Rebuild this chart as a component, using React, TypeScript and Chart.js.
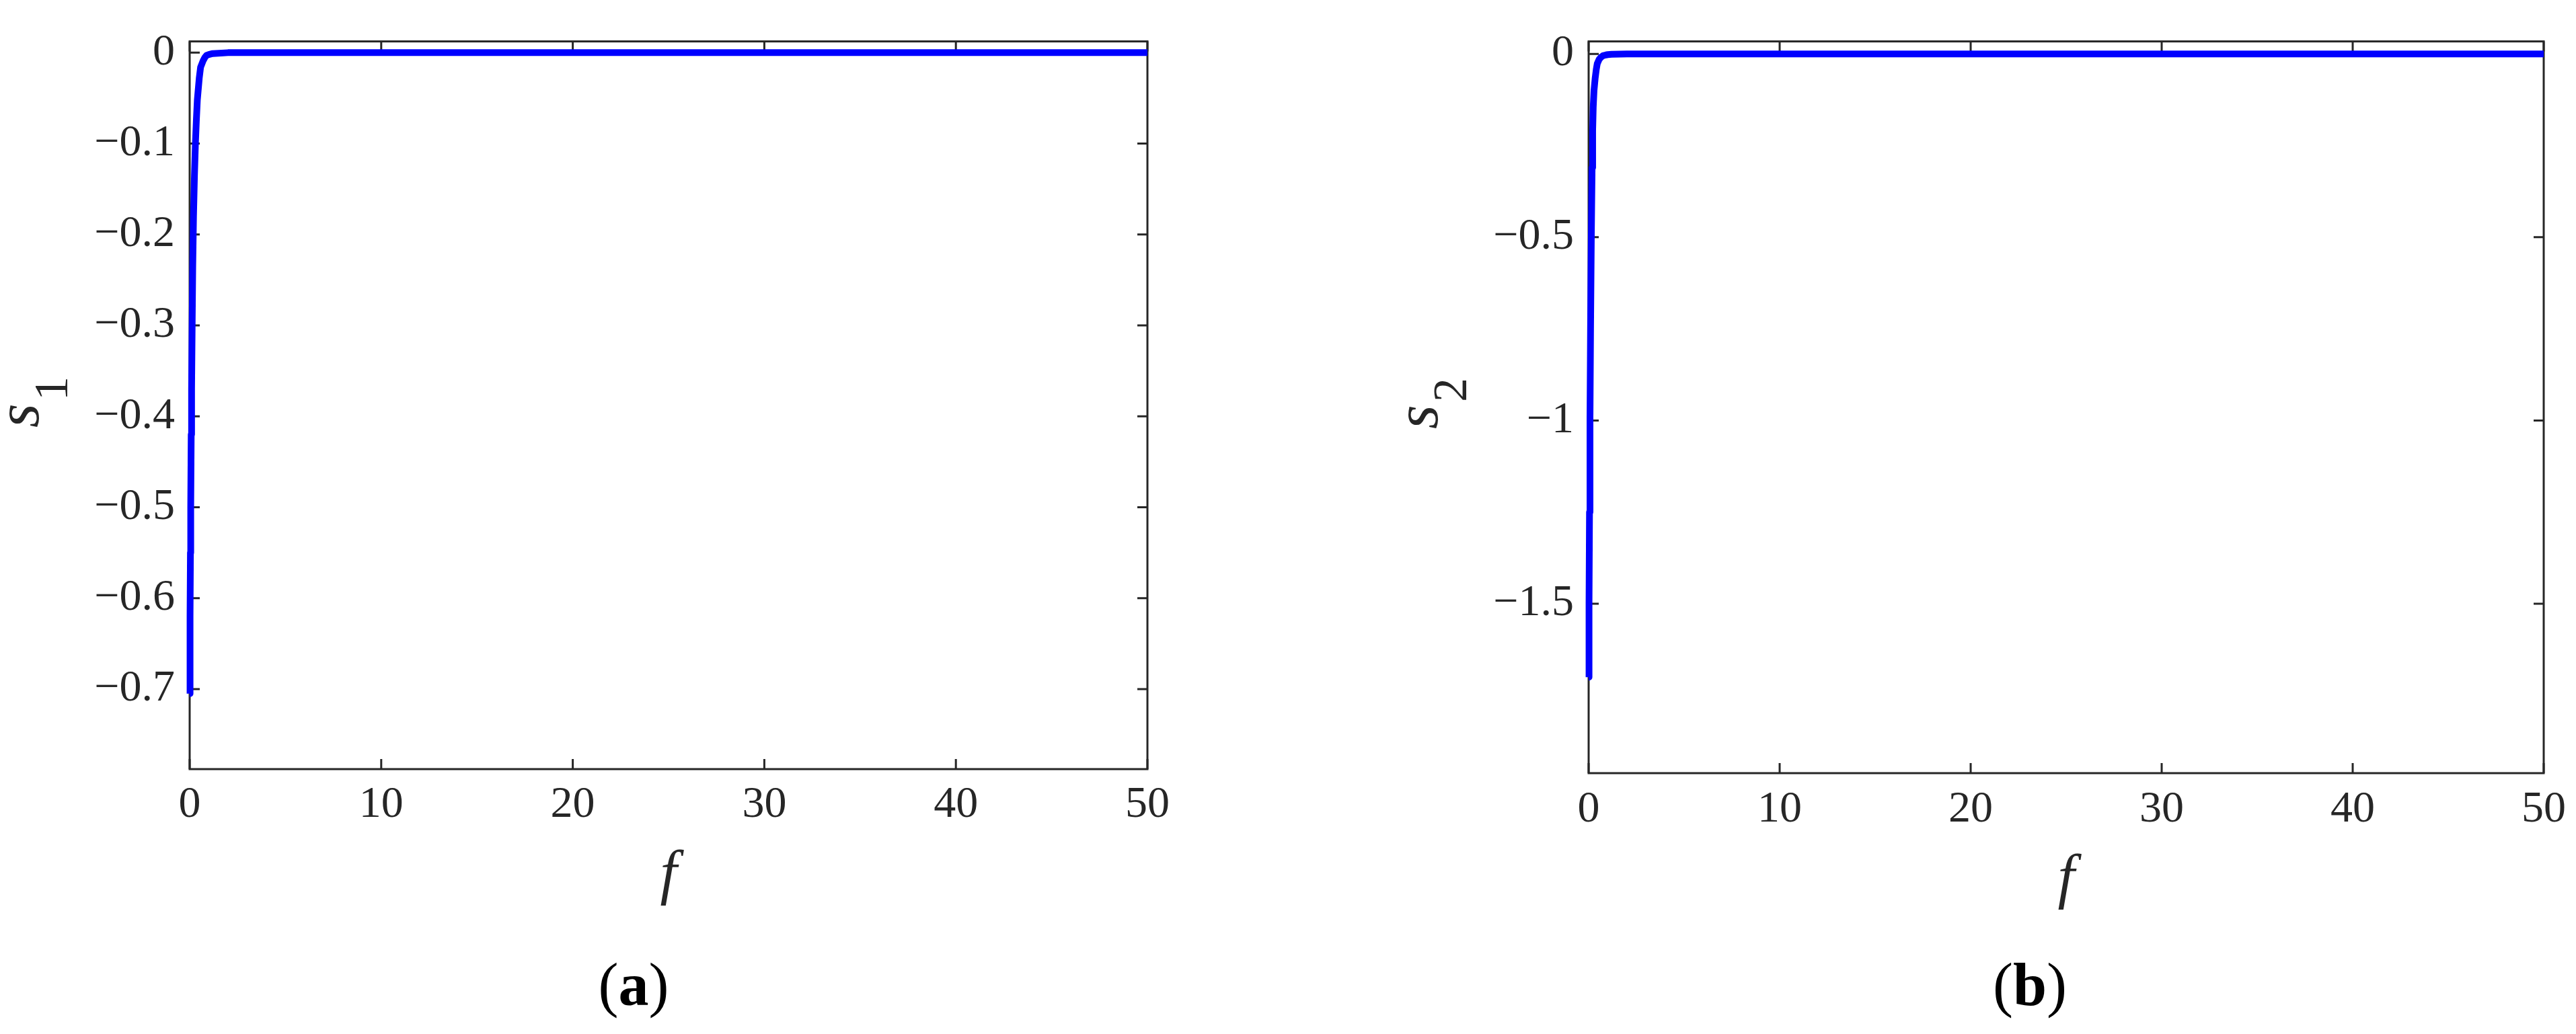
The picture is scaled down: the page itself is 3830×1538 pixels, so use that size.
import React, { useEffect, useRef } from 'react';
import { Chart, registerables } from 'chart.js';

Chart.register(...registerables);

// ---------- data ----------
const F1 = [0, 0.02, 0.04, 0.055, 0.08, 0.1, 0.13, 0.16, 0.2, 0.25, 0.3, 0.35, 0.4, 0.5, 0.57, 0.7, 0.8, 0.88, 1.0, 1.2, 2, 5, 10, 20, 30, 40, 50];
const S1 = [-0.705, -0.62, -0.55, -0.5, -0.42, -0.37, -0.3, -0.235, -0.18, -0.135, -0.1, -0.074, -0.052, -0.028, -0.016, -0.009, -0.005, -0.003, -0.002, -0.001, 0, 0, 0, 0, 0, 0, 0];

const F2 = [0, 0.02, 0.045, 0.07, 0.1, 0.14, 0.18, 0.21, 0.24, 0.28, 0.34, 0.4, 0.45, 0.55, 0.65, 0.75, 0.9, 1.0, 1.2, 2, 5, 10, 20, 30, 40, 50];
const S2 = [-1.7, -1.5, -1.25, -1.0, -0.75, -0.5, -0.31, -0.21, -0.145, -0.1, -0.067, -0.042, -0.027, -0.015, -0.009, -0.005, -0.003, -0.002, -0.001, 0, 0, 0, 0, 0, 0, 0];

const X_TICKS = [0, 10, 20, 30, 40, 50];
const X_TICK_LABELS = ['0', '10', '20', '30', '40', '50'];

const Y1_TICKS = [0, -0.1, -0.2, -0.3, -0.4, -0.5, -0.6, -0.7];
const Y1_TICK_LABELS = ['0', '\u22120.1', '\u22120.2', '\u22120.3', '\u22120.4', '\u22120.5', '\u22120.6', '\u22120.7'];
const Y1_LIMITS = [-0.788, 0.0124];

const Y2_TICKS = [0, -0.5, -1, -1.5];
const Y2_TICK_LABELS = ['0', '\u22120.5', '\u22121', '\u22121.5'];
const Y2_LIMITS = [-1.962, 0.034];

const X_LIMITS = [0, 50];

// ---------- style ----------
const FONT = "'Liberation Serif', 'Times New Roman', serif";
const INK = '#262626';
const CANVAS_H = 1538;
const PANEL_W = 1915;
const X_AXIS_H = 100;
const TICK_LEN = 15;

type Panel = {
  key: string;
  canvasLeft: number;
  area: { left: number; top: number; right: number; bottom: number };
  fs: number[];
  vs: number[];
  yTicks: number[];
  yTickLabels: string[];
  yLimits: number[];
  yMain: string;
  ySub: string;
  yLabelX: number;
  yLabelY: number;
  xTitleX: number;
  xTitleY: number;
  caption: string;
  captionX: number;
  captionY: number;
  xTickPad: number;
};

const PANELS: Panel[] = [
  {
    key: 'a',
    canvasLeft: 0,
    area: { left: 282, top: 44, right: 1706, bottom: 1144 },
    fs: F1,
    vs: S1,
    yTicks: Y1_TICKS,
    yTickLabels: Y1_TICK_LABELS,
    yLimits: Y1_LIMITS,
    yMain: 's',
    ySub: '1',
    yLabelX: 57,
    yLabelY: 636,
    xTitleX: 994,
    xTitleY: 1328,
    caption: 'a',
    captionX: 942,
    captionY: 1495,
    xTickPad: 14,
  },
  {
    key: 'b',
    canvasLeft: PANEL_W,
    area: { left: 447, top: 44, right: 1868, bottom: 1150 },
    fs: F2,
    vs: S2,
    yTicks: Y2_TICKS,
    yTickLabels: Y2_TICK_LABELS,
    yLimits: Y2_LIMITS,
    yMain: 's',
    ySub: '2',
    yLabelX: 222,
    yLabelY: 638,
    xTitleX: 1157,
    xTitleY: 1334,
    caption: 'b',
    captionX: 1103,
    captionY: 1495,
    xTickPad: 15,
  },
];

function labelFor(ticks: number[], labels: string[], v: number): string {
  const i = ticks.findIndex((t) => Math.abs(t - v) < 1e-9);
  return i >= 0 ? labels[i] : '';
}

function framePlugin(p: Panel) {
  return {
    id: 'frame-' + p.key,
    beforeDatasetsDraw(chart: any) {
      const { ctx, chartArea: a, scales } = chart;
      ctx.save();
      ctx.strokeStyle = INK;
      ctx.lineWidth = 3;
      ctx.lineCap = 'square';
      ctx.strokeRect(a.left, a.top, a.right - a.left, a.bottom - a.top);
      ctx.beginPath();
      ctx.lineCap = 'butt';
      for (const v of X_TICKS) {
        const px = scales.x.getPixelForValue(v);
        ctx.moveTo(px, a.bottom);
        ctx.lineTo(px, a.bottom - TICK_LEN);
        ctx.moveTo(px, a.top);
        ctx.lineTo(px, a.top + TICK_LEN);
      }
      for (const v of p.yTicks) {
        const py = scales.y.getPixelForValue(v);
        ctx.moveTo(a.left, py);
        ctx.lineTo(a.left + TICK_LEN, py);
        ctx.moveTo(a.right, py);
        ctx.lineTo(a.right - TICK_LEN, py);
      }
      ctx.stroke();
      ctx.restore();
    },
    afterDraw(chart: any) {
      const { ctx } = chart;
      ctx.save();
      ctx.fillStyle = INK;
      // y-axis title: italic s with subscript
      ctx.translate(p.yLabelX, p.yLabelY);
      ctx.rotate(-Math.PI / 2);
      ctx.textAlign = 'left';
      ctx.textBaseline = 'alphabetic';
      ctx.font = `italic 92px ${FONT}`;
      ctx.fillText(p.yMain, 0, 0);
      ctx.font = `72px ${FONT}`;
      ctx.fillText(p.ySub, 40, 43);
      ctx.restore();

      // x-axis title
      ctx.save();
      ctx.fillStyle = INK;
      ctx.font = `italic 90px ${FONT}`;
      ctx.textAlign = 'center';
      ctx.textBaseline = 'alphabetic';
      ctx.fillText('f', p.xTitleX, p.xTitleY);
      ctx.restore();

      // caption "(a)" with bold letter
      ctx.save();
      ctx.fillStyle = '#000000';
      ctx.textAlign = 'left';
      ctx.textBaseline = 'alphabetic';
      const reg = `90px ${FONT}`;
      const bold = `bold 90px ${FONT}`;
      ctx.font = reg;
      const wl = ctx.measureText('(').width;
      const wr = ctx.measureText(')').width;
      ctx.font = bold;
      const wm = ctx.measureText(p.caption).width;
      let x = p.captionX - (wl + wm + wr) / 2;
      ctx.font = reg;
      ctx.fillText('(', x, p.captionY);
      x += wl;
      ctx.font = bold;
      ctx.fillText(p.caption, x, p.captionY);
      x += wm;
      ctx.font = reg;
      ctx.fillText(')', x, p.captionY);
      ctx.restore();
    },
  };
}

function PanelChart({ p }: { p: Panel }) {
  const ref = useRef<HTMLCanvasElement | null>(null);
  useEffect(() => {
    if (!ref.current) return;
    const a = p.area;
    const chart = new Chart(ref.current, {
      type: 'line',
      data: {
        datasets: [
          {
            data: p.fs.map((f, i) => ({ x: f, y: p.vs[i] })),
            borderColor: '#0000ff',
            backgroundColor: '#0000ff',
            borderWidth: 10,
            pointRadius: 0,
            fill: false,
            tension: 0,
            borderJoinStyle: 'round',
            clip: 12,
          } as any,
        ],
      },
      options: {
        responsive: false,
        animation: false,
        events: [],
        layout: {
          padding: {
            left: 0,
            top: a.top,
            right: PANEL_W - a.right,
            bottom: CANVAS_H - a.bottom - X_AXIS_H,
          },
        },
        plugins: {
          legend: { display: false },
          tooltip: { enabled: false },
        },
        scales: {
          x: {
            type: 'linear',
            min: X_LIMITS[0],
            max: X_LIMITS[1],
            afterBuildTicks: (s: any) => {
              s.ticks = X_TICKS.map((v) => ({ value: v }));
            },
            afterFit: (s: any) => {
              s.height = X_AXIS_H;
            },
            ticks: {
              autoSkip: false,
              maxRotation: 0,
              padding: p.xTickPad,
              color: INK,
              font: { family: FONT, size: 66 },
              callback: (v: any) => labelFor(X_TICKS, X_TICK_LABELS, Number(v)),
            },
            grid: { display: false, drawTicks: false },
            border: { display: false },
          },
          y: {
            type: 'linear',
            min: p.yLimits[0],
            max: p.yLimits[1],
            afterBuildTicks: (s: any) => {
              s.ticks = p.yTicks.map((v) => ({ value: v }));
            },
            afterFit: (s: any) => {
              s.width = a.left;
            },
            ticks: {
              autoSkip: false,
              padding: 22,
              color: INK,
              font: { family: FONT, size: 66 },
              callback: (v: any) => labelFor(p.yTicks, p.yTickLabels, Number(v)),
            },
            grid: { display: false, drawTicks: false },
            border: { display: false },
          },
        },
      } as any,
      plugins: [framePlugin(p)],
    });
    return () => chart.destroy();
  }, [p]);
  return (
    <canvas
      ref={ref}
      width={PANEL_W}
      height={CANVAS_H}
      style={{ position: 'absolute', left: p.canvasLeft, top: 0, width: PANEL_W, height: CANVAS_H, display: 'block' }}
    />
  );
}

export default function App() {
  return (
    <div style={{ position: 'absolute', left: 0, top: 0, width: 3830, height: CANVAS_H, background: '#ffffff', overflow: 'hidden' }}>
      {PANELS.map((p) => (
        <PanelChart key={p.key} p={p} />
      ))}
    </div>
  );
}
